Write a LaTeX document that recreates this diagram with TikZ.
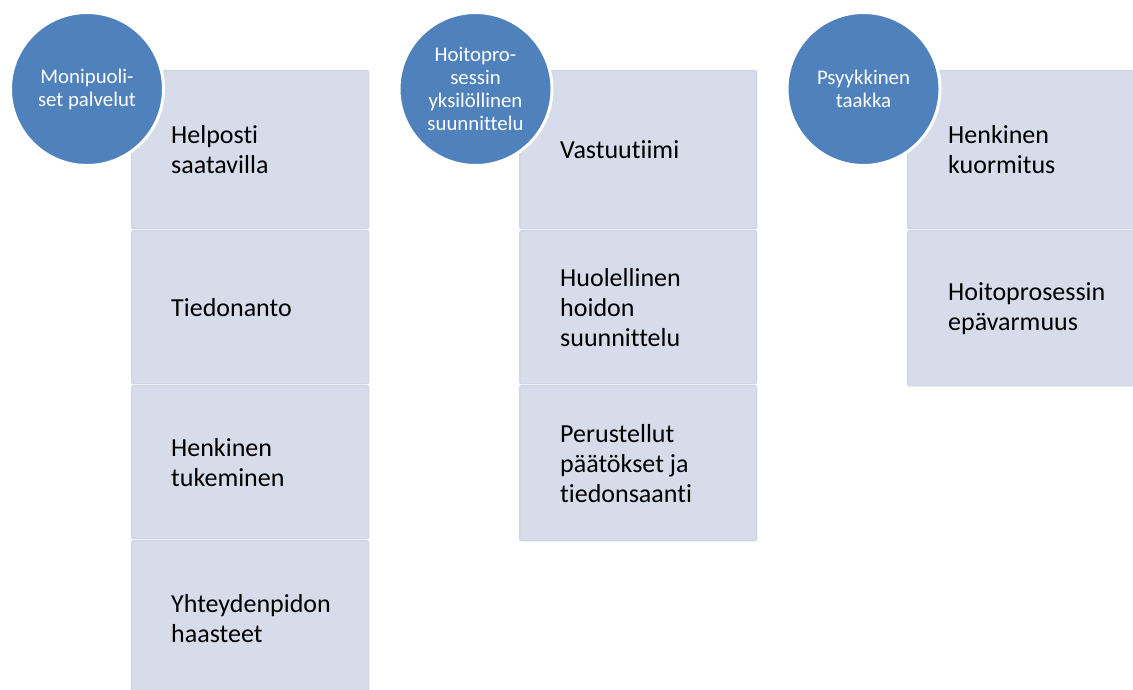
\documentclass[tikz,border=0pt]{standalone}
\usepackage{fontspec}
\setmainfont{Carlito}[Ligatures=NoCommon]
\definecolor{circblue}{RGB}{79,129,189}
\definecolor{boxfill}{RGB}{214,220,233}
\definecolor{boxedge}{RGB}{206,213,229}
\begin{document}
\begin{tikzpicture}[x=1pt,y=-1pt,
  box/.style={draw=boxedge, fill=boxfill, line width=1.4pt, rounded corners=2pt,
    minimum width=237pt, anchor=north west, inner sep=0pt},
  circ/.style={circle, fill=circblue, draw=white, line width=3pt, minimum size=153pt,
    inner sep=0pt, text=white, font=\fontsize{20.8}{23}\selectfont, align=center},
  lbl/.style={anchor=west, align=left, font=\fontsize{26}{30}\selectfont, inner sep=0pt, text=black}]
\clip (0,0) rectangle (1133,690);
\fill[white] (0,0) rectangle (1133,690);
% column 1
\node[box, minimum height=158pt] (a1) at (131,70) {};
\node[box, minimum height=153pt] (a2) at (131,230) {};
\node[box, minimum height=153pt] (a3) at (131,385) {};
\node[box, minimum height=160pt] (a4) at (131,540) {};
% column 2
\node[box, minimum height=158pt] (b1) at (519,70) {};
\node[box, minimum height=153pt] (b2) at (519,230) {};
\node[box, minimum height=155pt] (b3) at (519,385) {};
% column 3
\node[box, minimum height=158pt] (c1) at (907,70) {};
\node[box, minimum height=155pt] (c2) at (907,230) {};
% labels
\node[lbl] (ta1) at ([xshift=40pt]a1.west) {Helposti\\saatavilla};
\node[lbl] (ta2) at ([xshift=40pt]a2.west) {Tiedonanto};
\node[lbl] (ta3) at ([xshift=40pt]a3.west) {Henkinen\\tukeminen};
\node[lbl] (ta4) at ([xshift=40pt,yshift=2pt]a4.west) {Yhteydenpidon\\haasteet};
\node[lbl] (tb1) at ([xshift=41pt]b1.west) {Vastuutiimi};
\node[lbl] (tb2) at ([xshift=41pt]b2.west) {Huolellinen\\hoidon\\suunnittelu};
\node[lbl] (tb3) at ([xshift=41pt]b3.west) {Perustellut\\päätökset ja\\tiedonsaanti};
\node[lbl] (tc1) at ([xshift=41pt]c1.west) {Henkinen\\kuormitus};
\node[lbl] (tc2) at ([xshift=41pt]c2.west) {Hoitoprosessin\\epävarmuus};
% circles
\node[circ] (ca) at (87,89) {Monipuoli-\\set palvelut};
\node[circ] (cb) at (475.5,89) {Hoitopro-\\sessin\\yksilöllinen\\suunnittelu};
\node[circ] (cc) at (863.5,89) {Psyykkinen\\taakka};
\end{tikzpicture}
\end{document}
